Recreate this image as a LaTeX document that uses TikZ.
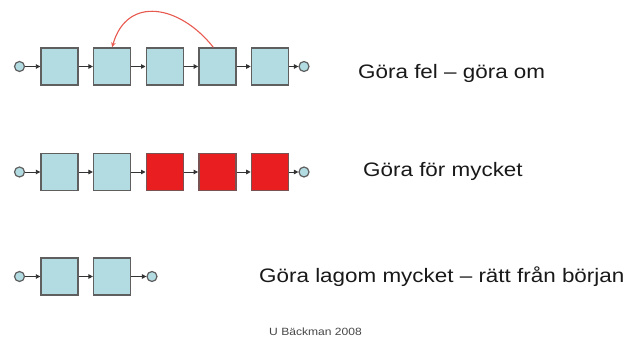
\documentclass[tikz,border=0pt]{standalone}
\usepackage{fontspec}
\setmainfont{Liberation Sans}
\usetikzlibrary{arrows.meta}
\definecolor{boxblue}{RGB}{178,220,226}
\definecolor{boxred}{RGB}{232,30,32}
\definecolor{edgegray}{RGB}{95,95,95}
\definecolor{arcred}{RGB}{232,90,80}
\definecolor{txt}{RGB}{25,25,25}
\tikzset{
  stepbox/.style={draw=edgegray, line width=1.4pt, fill=boxblue, minimum size=37pt, inner sep=0pt},
  redbox/.style={stepbox, fill=boxred, draw=edgegray!80!boxred},
  endpt/.style={circle, draw=edgegray, line width=1.2pt, fill=boxblue, minimum size=10pt, inner sep=0pt},
  flow/.style={draw=black!80, line width=0.9pt, -{Triangle[length=4.5pt,width=4.5pt]}},
  lbl/.style={anchor=base west, inner sep=0pt, text=txt, font=\fontsize{19.5}{22}\selectfont},
  foot/.style={anchor=base west, inner sep=0pt, text=txt!80, font=\fontsize{10.5}{12}\selectfont}
}
\begin{document}
\begin{tikzpicture}[x=1pt,y=-1pt]
\useasboundingbox[fill=white] (0,0) rectangle (627,344);
% Row 1
\node[endpt] (s1) at (19.5,66.5) {};
\node[stepbox] (a1) at (59.5,66.5) {};
\node[stepbox] (a2) at (112.1,66.5) {};
\node[stepbox] (a3) at (164.7,66.5) {};
\node[stepbox] (a4) at (217.3,66.5) {};
\node[stepbox] (a5) at (269.9,66.5) {};
\node[endpt] (e1) at (304,66.5) {};
\draw[flow] (s1) -- (a1);
\draw[flow] (a1) -- (a2);
\draw[flow] (a2) -- (a3);
\draw[flow] (a3) -- (a4);
\draw[flow] (a4) -- (a5);
\draw[flow] (a5) -- (e1);
\draw[arcred, line width=1.1pt, -{Stealth[length=5pt,width=4.5pt]}]
  ([xshift=-4pt]a4.north) .. controls (180,5) and (127,-5) .. (a2.north);
\node[lbl] (t1) at (358,78.3) {\scalebox{1.15}[1]{Göra fel – göra om}};
% Row 2
\node[endpt] (s2) at (19.5,172) {};
\node[stepbox] (b1) at (59.5,172) {};
\node[stepbox] (b2) at (112.1,172) {};
\node[redbox] (b3) at (164.7,172) {};
\node[redbox] (b4) at (217.3,172) {};
\node[redbox] (b5) at (269.9,172) {};
\node[endpt] (e2) at (304,172) {};
\draw[flow] (s2) -- (b1);
\draw[flow] (b1) -- (b2);
\draw[flow] (b2) -- (b3);
\draw[flow] (b3) -- (b4);
\draw[flow] (b4) -- (b5);
\draw[flow] (b5) -- (e2);
\node[lbl] (t2) at (363,177) {\scalebox{1.15}[1]{Göra för mycket}};
% Row 3
\node[endpt] (s3) at (19.5,276.5) {};
\node[stepbox] (c1) at (59.5,276.5) {};
\node[stepbox] (c2) at (112.1,276.5) {};
\node[endpt] (e3) at (152,276.5) {};
\draw[flow] (s3) -- (c1);
\draw[flow] (c1) -- (c2);
\draw[flow] (c2) -- (e3);
\node[lbl] (t3) at (259,283) {\scalebox{1.15}[1]{Göra lagom mycket – rätt från början}};
% Footer
\node[foot] (ft) at (269,336) {\scalebox{1.15}[1]{U Bäckman 2008}};
\end{tikzpicture}
\end{document}
